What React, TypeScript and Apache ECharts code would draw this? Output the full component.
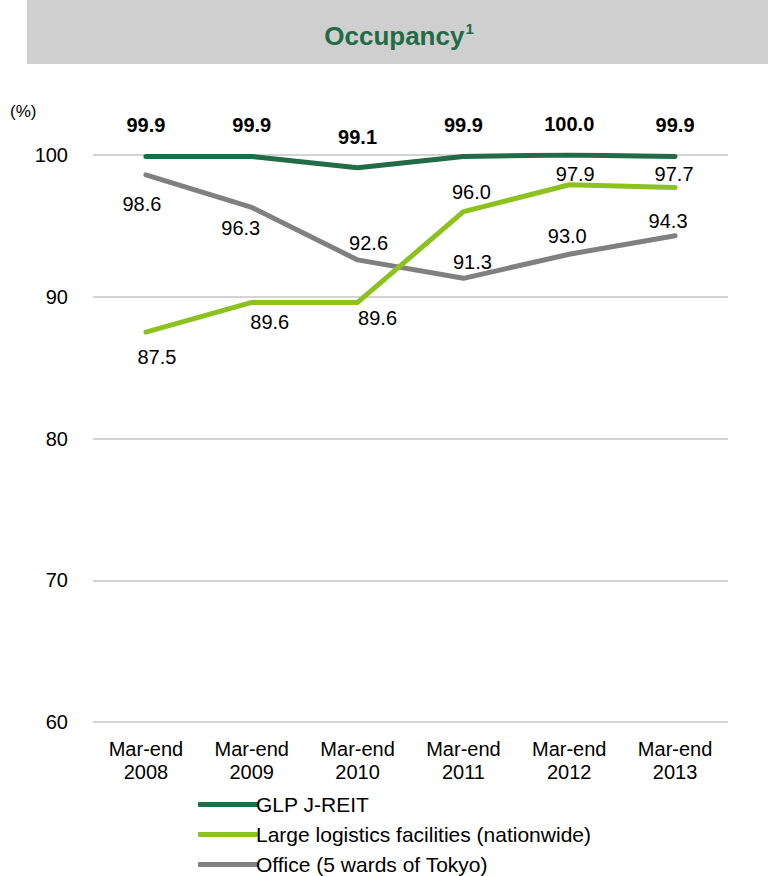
import React, { useEffect, useRef } from "react";
import * as echarts from "echarts";

const categories = [
  "Mar-end\n2008",
  "Mar-end\n2009",
  "Mar-end\n2010",
  "Mar-end\n2011",
  "Mar-end\n2012",
  "Mar-end\n2013",
];
const glpValues = [99.9, 99.9, 99.1, 99.9, 100.0, 99.9];
const logisticsValues = [87.5, 89.6, 89.6, 96.0, 97.9, 97.7];
const officeValues = [98.6, 96.3, 92.6, 91.3, 93.0, 94.3];
const seriesNames = [
  "GLP J-REIT",
  "Large logistics facilities (nationwide)",
  "Office (5 wards of Tokyo)",
];

// label offsets (style only)
const glpOffsets = [[0, -31], [0, -31], [0, -31], [0, -31], [0, -31], [0, -31]];
const logisticsOffsets = [[11, 25], [18, 20], [20, 16], [8, -20], [6, -11], [-1, -14]];
const officeOffsets = [[-4, 29], [-11, 21], [11, -17], [9, -16], [-2, -18], [-7, -15]];

const FONT = "'Liberation Sans', Arial, Helvetica, sans-serif";
const DARK_GREEN = "#226b44";
const LIME = "#8cc21e";
const GRAY = "#808080";

function makeData(values: number[], offsets: number[][], bold: boolean) {
  return values.map((v, i) => ({
    value: v,
    label: {
      show: true,
      position: "inside",
      offset: offsets[i],
      formatter: (p: any) => Number(p.value).toFixed(1),
      fontSize: 20,
      fontWeight: bold ? "bold" : "normal",
      color: "#000",
      fontFamily: FONT,
    },
  }));
}

export default function App() {
  const ref = useRef<HTMLDivElement>(null);
  useEffect(() => {
    if (!ref.current) return;
    const chart = echarts.init(ref.current, undefined, { renderer: "svg" });
    const lineSeries = (name: string, values: number[], offsets: number[][], color: string, bold: boolean, z: number) => ({
      name,
      type: "line",
      data: makeData(values, offsets, bold),
      symbol: "circle",
      symbolSize: 0.01,
      showSymbol: true,
      z,
      lineStyle: { color, width: 5, cap: "round", join: "round" },
      itemStyle: { color },
      emphasis: { disabled: true },
    });
    chart.setOption({
      animation: false,
      backgroundColor: "#fff",
      graphic: [
        {
          type: "rect",
          z: 0,
          shape: { x: 27, y: 0, width: 741, height: 64 },
          style: { fill: "#cfcfcf" },
          silent: true,
        },
        {
          type: "text",
          left: 10,
          top: 103,
          style: { text: "(%)", fontSize: 17, fontFamily: FONT, fill: "#000" },
        },
      ],
      title: {
        text: "{a|Occupancy}{b|1}",
        left: 394,
        textAlign: "center",
        top: 16,
        z: 10,
        textStyle: {
          rich: {
            a: { fontSize: 26, fontWeight: "bold", color: DARK_GREEN, fontFamily: FONT, lineHeight: 30 },
            b: { fontSize: 15, fontWeight: "bold", color: DARK_GREEN, fontFamily: FONT, verticalAlign: "top", lineHeight: 30, padding: [0, 0, 12, 1] },
          },
        },
      },
      grid: { left: 93, right: 40, top: 155, bottom: 154, containLabel: false },
      legend: {
        orient: "vertical",
        left: 193,
        top: 789,
        height: 200,
        itemWidth: 60,
        itemHeight: 5,
        itemGap: 9,
        icon: "roundRect",
        data: seriesNames,
        textStyle: { fontSize: 21, fontFamily: FONT, color: "#000", lineHeight: 21, padding: [0, 0, 0, -7] },
      },
      xAxis: {
        type: "category",
        data: categories,
        boundaryGap: true,
        axisLine: { show: false },
        axisTick: { show: false },
        axisLabel: { fontSize: 20, lineHeight: 23, fontFamily: FONT, color: "#000", margin: 15 },
      },
      yAxis: {
        type: "value",
        min: 60,
        max: 100,
        interval: 10,
        axisLine: { show: false },
        axisTick: { show: false },
        axisLabel: { fontSize: 20, fontFamily: FONT, color: "#000", margin: 25 },
        splitLine: { lineStyle: { color: "#c4c4c4", width: 1.5 } },
      },
      series: [
        lineSeries(seriesNames[2], officeValues, officeOffsets, GRAY, false, 2),
        lineSeries(seriesNames[1], logisticsValues, logisticsOffsets, LIME, false, 3),
        lineSeries(seriesNames[0], glpValues, glpOffsets, DARK_GREEN, true, 4),
      ],
    });
    return () => chart.dispose();
  }, []);
  return (
    <div
      ref={ref}
      style={{ position: "absolute", left: 0, top: 0, width: 768, height: 876 }}
    />
  );
}
